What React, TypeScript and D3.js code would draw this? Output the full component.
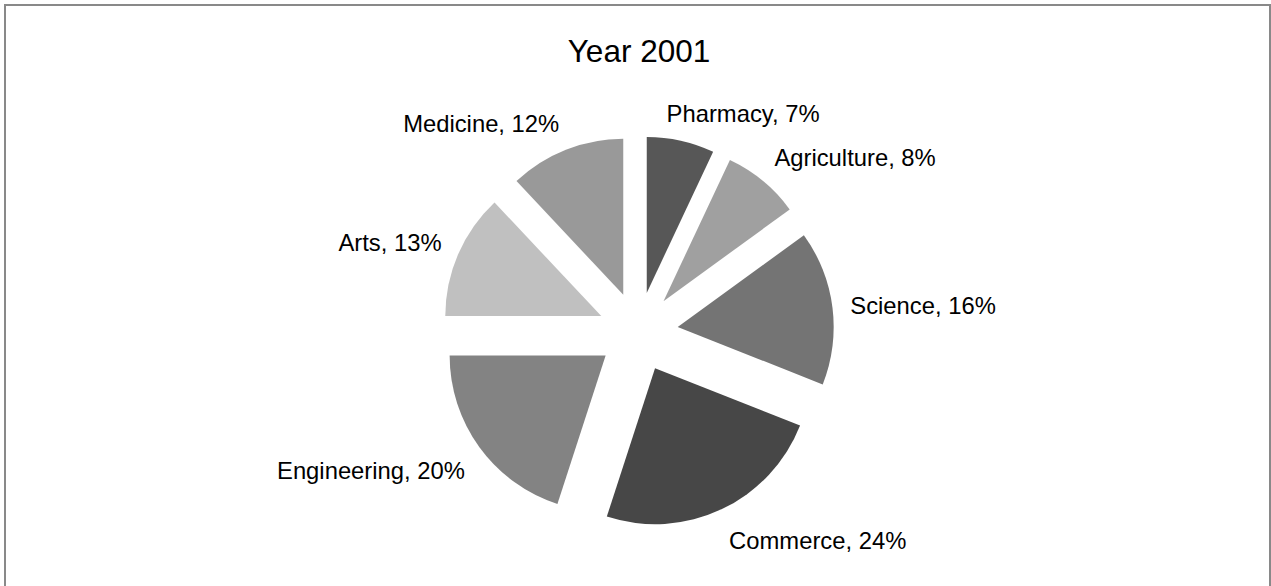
import React from "react";
import * as d3 from "d3";

const categories = ["Pharmacy", "Agriculture", "Science", "Commerce", "Engineering", "Arts", "Medicine"];
const values = [7, 8, 16, 24, 20, 13, 12];
const colors = ["#575757", "#a0a0a0", "#747474", "#474747", "#838383", "#c0c0c0", "#999999"];
const title = "Year 2001";

const W = 1271;
const H = 586;
const CX = 638;
const CY = 332;
const R = 156;
const EXPLODE = 40;
const LABEL_R = 214;
const FONT = "'Liberation Sans', Arial, sans-serif";
const LABEL_SIZE = 23.8;

function measure(text: string, size: number): number {
  if (typeof document === "undefined") return text.length * size * 0.5;
  const c = document.createElement("canvas");
  const ctx = c.getContext("2d");
  if (!ctx) return text.length * size * 0.5;
  ctx.font = `${size}px ${FONT}`;
  return ctx.measureText(text).width;
}

export default function App() {
  const data = categories.map((c, i) => ({ name: c, value: values[i], color: colors[i] }));
  const pie = d3.pie<any>().sort(null).value((d: any) => d.value).startAngle(0).endAngle(2 * Math.PI);
  const arcs = pie(data);
  const arc = d3.arc<any>().innerRadius(0).outerRadius(R);
  const clamp = (v: number) => Math.max(-1, Math.min(1, v));

  return (
    <svg width={W} height={H} style={{ position: "absolute", left: 0, top: 0, background: "#fff" }}>
      <rect x={5} y={5} width={1265} height={700} fill="#fff" stroke="#898989" strokeWidth={2} />
      <text x={639} y={62} textAnchor="middle" fontFamily={FONT} fontSize={31.5} fill="#000">
        {title}
      </text>
      <g transform={`translate(${CX},${CY})`}>
        {arcs.map((a: any, i: number) => {
          const mid = (a.startAngle + a.endAngle) / 2;
          const dx = Math.sin(mid) * EXPLODE;
          const dy = -Math.cos(mid) * EXPLODE;
          return (
            <path key={i} d={arc(a) as string} fill={a.data.color} transform={`translate(${dx},${dy})`} />
          );
        })}
        {arcs.map((a: any, i: number) => {
          const mid = (a.startAngle + a.endAngle) / 2;
          const s = Math.sin(mid);
          const c = Math.cos(mid);
          const label = `${a.data.name}, ${Math.round(a.data.value)}%`;
          const w = measure(label, LABEL_SIZE);
          const h = LABEL_SIZE;
          const px = s * LABEL_R;
          const py = -c * LABEL_R;
          const cx = px + (w / 2) * clamp(3.5 * s);
          const cy = py - (h / 2) * clamp(1.5 * c);
          return (
            <text
              key={"l" + i}
              x={cx}
              y={cy + LABEL_SIZE * 0.47}
              textAnchor="middle"
              fontFamily={FONT}
              fontSize={LABEL_SIZE}
              fill="#000"
            >
              {label}
            </text>
          );
        })}
      </g>
    </svg>
  );
}
